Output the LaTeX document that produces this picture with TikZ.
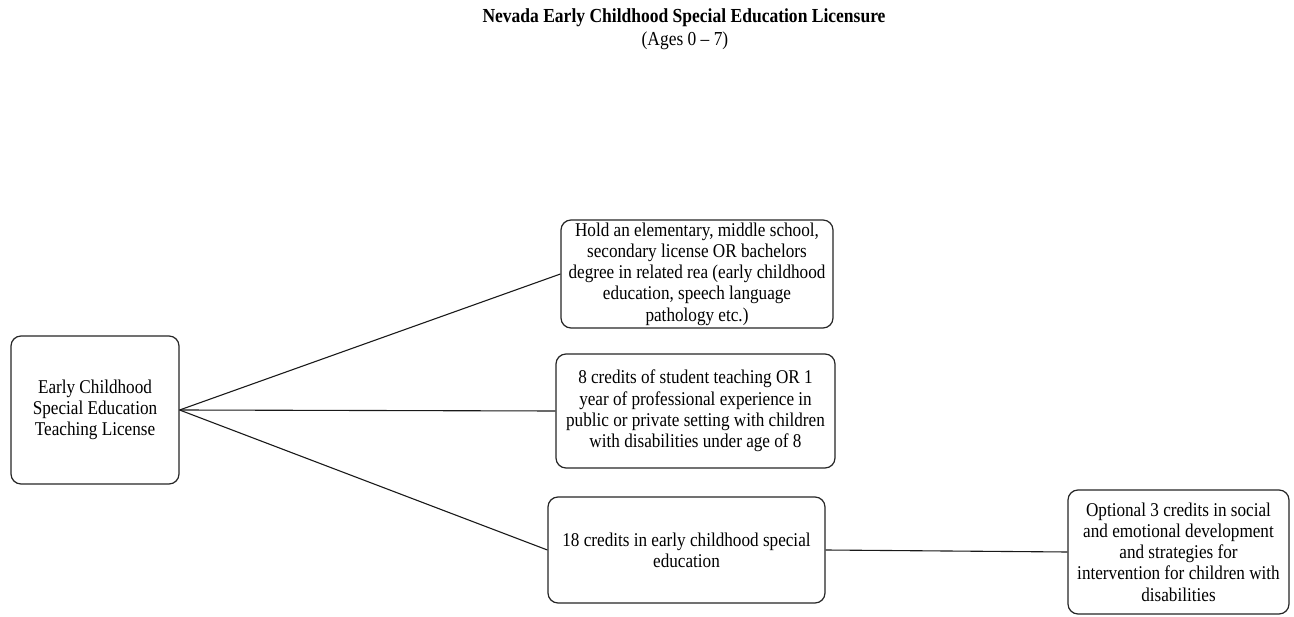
\documentclass[tikz,border=0pt]{standalone}
\usepackage{fontspec}
\setmainfont{Liberation Serif}[FakeStretch=0.88]
\begin{document}
\begin{tikzpicture}[x=1pt,y=-1pt,
  box/.style={draw=black!85, line width=1.2pt, rounded corners=10pt, fill=white,
    align=center, inner sep=0pt, font=\fontsize{19.5}{21.3}\selectfont},
  heading/.style={anchor=base, font=\fontsize{19.8}{23}\selectfont},
  link/.style={draw=black!90, line width=1.1pt}]
\useasboundingbox (0,0) rectangle (1294,617);

% title
\node[heading, font=\bfseries\fontsize{19.9}{23}\selectfont] (title) at (684,23) {Nevada Early Childhood Special Education Licensure};
\node[heading] (ages) at (685,46) {(Ages 0 -- 7)};

% boxes
\node[box, minimum width=168pt, minimum height=148pt] (lic) at (95,410)
  {Early Childhood\\Special Education\\Teaching License};
\node[box, minimum width=272pt, minimum height=108pt] (deg) at (697,274)
  {Hold an elementary, middle school,\\secondary license OR bachelors\\degree in related rea (early childhood\\education, speech language\\pathology etc.)};
\node[box, minimum width=279pt, minimum height=114pt] (exp) at (695.5,411)
  {8 credits of student teaching OR 1\\year of professional experience in\\public or private setting with children\\with disabilities under age of 8};
\node[box, minimum width=277pt, minimum height=106pt] (cred) at (686.5,550)
  {18 credits in early childhood special\\education};
\node[box, minimum width=221pt, minimum height=124pt] (opt) at (1178.5,552)
  {Optional 3 credits in social\\and emotional development\\and strategies for\\intervention for children with\\disabilities};

% connectors
\draw[link] (lic.east) -- (deg.west);
\draw[link] (lic.east) -- (exp.west);
\draw[link] (lic.east) -- (cred.west);
\draw[link] (cred.east) -- (opt.west);
\end{tikzpicture}
\end{document}
